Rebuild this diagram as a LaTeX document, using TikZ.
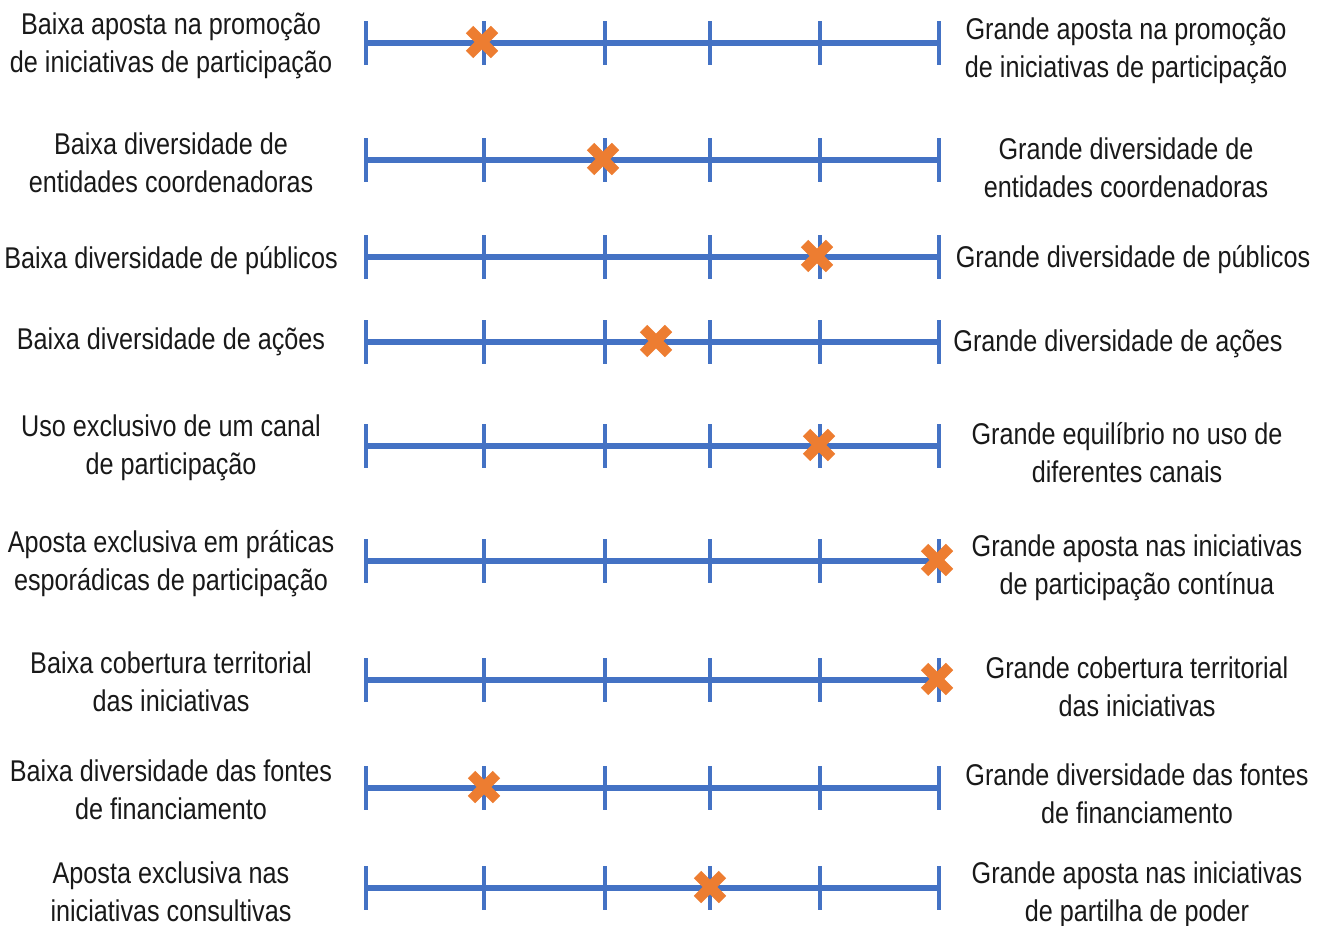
\documentclass[tikz,border=0pt]{standalone}
\usepackage{fontspec}
\setmainfont{Liberation Sans}[FakeStretch=0.84]
\definecolor{axisblue}{HTML}{4472C4}
\definecolor{markorange}{HTML}{ED7D31}
\tikzset{
  axisline/.style={draw=axisblue, line width=5.5pt},
  tickline/.style={draw=axisblue, line width=3.8pt},
  crossline/.style={draw=markorange, line width=10.5pt},
  lbl/.style={align=center, inner sep=0pt, font=\fontsize{30}{38}\selectfont, text=black!90},
}
\begin{document}
\begin{tikzpicture}[x=1pt,y=-1pt]
\useasboundingbox (0,0) rectangle (1317,926);
\foreach \n/\y/\m/\ly/\rx/\ry/\lt/\rt in {
 1/43/482/46/1126/51/{Baixa aposta na promoção\\de iniciativas de participação}/{Grande aposta na promoção\\de iniciativas de participação},
 2/160/603/163/1126/168/{Baixa diversidade de\\entidades coordenadoras}/{Grande diversidade de\\entidades coordenadoras},
 3/257/817/261/1133/260/{Baixa diversidade de públicos}/{Grande diversidade de públicos},
 4/342/656/342/1118/344/{Baixa diversidade de ações}/{Grande diversidade de ações},
 5/446/819/448/1127/453/{Uso exclusivo de um canal\\de participação}/{Grande equilíbrio no uso de\\diferentes canais},
 6/561/937/564/1137/568/{Aposta exclusiva em práticas\\esporádicas de participação}/{Grande aposta nas iniciativas\\de participação contínua},
 7/680/937/682/1137/687/{Baixa cobertura territorial\\das iniciativas}/{Grande cobertura territorial\\das iniciativas},
 8/788/484/790/1137/794/{Baixa diversidade das fontes\\de financiamento}/{Grande diversidade das fontes\\de financiamento},
 9/888/710/892/1137/895/{Aposta exclusiva nas\\iniciativas consultivas}/{Grande aposta nas iniciativas\\de partilha de poder}}
{
  \coordinate (a\n) at (366,\y);
  \coordinate (b\n) at (939,\y);
  \draw[axisline] (a\n) -- (b\n);
  \foreach \t in {366,484,605,710,820,939}
    \draw[tickline] (\t,\y-22) -- (\t,\y+22);
  \coordinate (x\n) at (\m,\y-1);
  \draw[crossline] ([shift={(-12.5,-12.5)}]x\n) -- ([shift={(12.5,12.5)}]x\n);
  \draw[crossline] ([shift={(-12.5,12.5)}]x\n) -- ([shift={(12.5,-12.5)}]x\n);
  \node[lbl] (L\n) at (171,\ly) {\lt};
  \node[lbl] (R\n) at (\rx,\ry) {\rt};
}
\end{tikzpicture}
\end{document}
